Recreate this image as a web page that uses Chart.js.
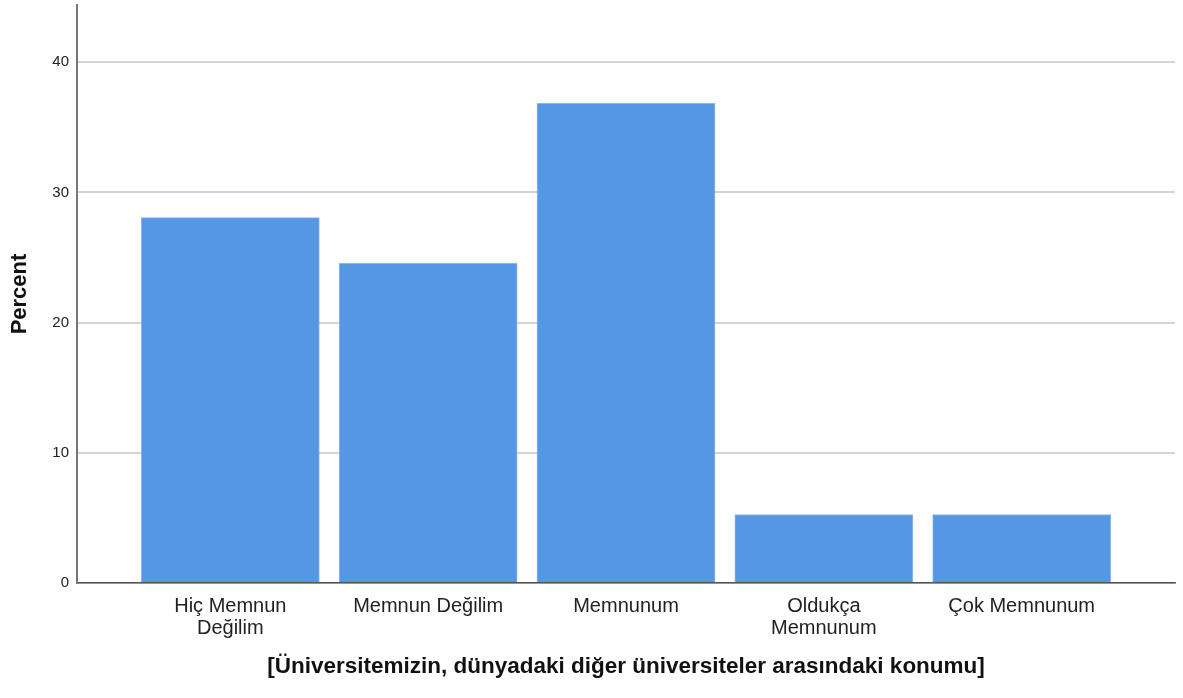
<!DOCTYPE html>
<html>
<head>
<meta charset="utf-8">
<script src="https://cdn.jsdelivr.net/npm/chart.js@4"></script>
<style>
html,body{margin:0;padding:0;background:#fff;}
#wrap{width:1183px;height:698px;position:relative;}
</style>
</head>
<body>
<div id="wrap"><canvas id="c" width="1183" height="698"></canvas></div>
<script>
const categories = [["Hiç Memnun", "Değilim"], "Memnun Değilim", "Memnunum", ["Oldukça", "Memnunum"], "Çok Memnunum"];
const percentValues = [28.07, 24.56, 36.84, 5.26, 5.26];
const yTicks = [0, 10, 20, 30, 40];
const xTitle = "[Üniversitemizin, dünyadaki diğer üniversiteler arasındaki konumu]";
const yTitle = "Percent";

const points = categories.map((c, i) => ({x: i + 1, y: percentValues[i]}));
const FONT = "'Liberation Sans', Arial, sans-serif";

new Chart(document.getElementById('c'), {
  type: 'bar',
  data: {
    datasets: [{
      data: points,
      backgroundColor: '#5596e5',
      borderColor: '#8ab6ee',
      borderWidth: 1,
      barThickness: 178,
      grouped: false
    }]
  },
  options: {
    responsive: false,
    animation: false,
    layout: {padding: {top: 5, right: 8, bottom: 0, left: 0}},
    plugins: {legend: {display: false}, tooltip: {enabled: false}},
    scales: {
      x: {
        type: 'linear',
        offset: false,
        min: 0.225,
        max: 5.775,
        afterBuildTicks: s => { s.ticks = categories.map((c, i) => ({value: i + 1})); },
        afterFit: s => { s.height = 115; s.paddingLeft = 0; s.paddingRight = 0; },
        grid: {display: false, drawTicks: false, offset: false},
        border: {display: true, color: '#555', width: 1.5},
        ticks: {
          autoSkip: false,
          maxRotation: 0,
          padding: 12,
          color: '#222',
          font: {family: FONT, size: 20, lineHeight: 1.1},
          callback: v => categories[v - 1]
        },
        title: {
          display: true,
          text: xTitle,
          color: '#111',
          font: {family: FONT, size: 22.5, weight: 'bold'},
          padding: {top: 0, bottom: 18}
        }
      },
      y: {
        min: 0,
        max: 44.4,
        afterBuildTicks: s => { s.ticks = yTicks.map(v => ({value: v})); },
        afterFit: s => { s.width = 77; s.paddingTop = 0; s.paddingBottom = 0; },
        grid: {color: '#d4d4d4', lineWidth: 2, drawTicks: false},
        border: {display: true, color: '#777', width: 2},
        ticks: {
          padding: 8,
          color: '#222',
          font: {family: FONT, size: 15}
        },
        title: {
          display: true,
          text: yTitle,
          color: '#111',
          font: {family: FONT, size: 22, weight: 'bold'},
          padding: {top: 7, bottom: 0}
        }
      }
    }
  }
});
</script>
</body>
</html>
